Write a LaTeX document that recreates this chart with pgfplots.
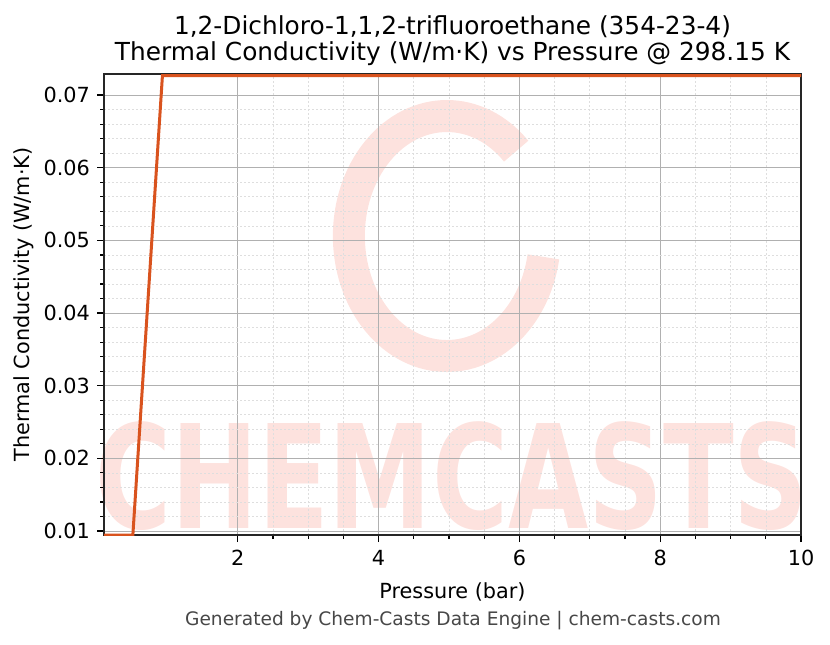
\documentclass[border=0pt]{standalone}
\usepackage{pgfplots}
\pgfplotsset{compat=1.18}
\usetikzlibrary{calc}
\usepackage{fontspec}
\setmainfont{DejaVu Sans}
\definecolor{lineorange}{RGB}{217,83,30}
\definecolor{wmark}{RGB}{253,226,222}
\definecolor{gridmajor}{RGB}{176,176,176}
\definecolor{gridminor}{RGB}{222,222,222}

\begin{document}
\begin{tikzpicture}
\begin{axis}[
    set layers,
    scale only axis,
    width=348.5pt, height=230.5pt,
    xmin=0.1, xmax=10,
    ymin=0.00945, ymax=0.0729,
    xtick={2,4,6,8,10},
    ytick={0.01,0.02,0.03,0.04,0.05,0.06,0.07},
    minor x tick num=3,
    minor y tick num=4,
    scaled y ticks=false,
    yticklabel style={/pgf/number format/fixed, /pgf/number format/fixed zerofill, /pgf/number format/precision=2},
    /pgf/number format/assume math mode=true,
    tick label style={font=\fontsize{10.4}{12}\selectfont},
    label style={font=\fontsize{10.4}{12}\selectfont},
    xticklabel style={yshift=-0.5pt},
    xlabel style={yshift=-1.5pt},
    ylabel style={yshift=-2pt},
    tick align=outside,
    xtick pos=bottom, ytick pos=left,
    major tick length=3.5pt, minor tick length=2pt,
    every tick/.style={black, line width=0.6pt},
    axis line style={line width=0.9pt, black!85},
    grid=both,
    major grid style={gridmajor, line width=0.4pt},
    minor grid style={gridminor, line width=0.3pt, dash pattern=on 1pt off 1pt},
    xlabel={Pressure (bar)},
    ylabel={Thermal Conductivity (W/m·K)},
    title={1,2-Dichloro-1,1,2-trifluoroethane (354-23-4)\\Thermal Conductivity (W/m·K) vs Pressure @ 298.15 K},
    title style={font=\fontsize{12.4}{13.2}\selectfont, align=center, yshift=-5.5pt},
    clip=true,
]
\begin{pgfonlayer}{axis background}
  \draw[wmark, line width=16pt] (axis cs:4.97,0.0506) ++(45:49pt and 60pt)
      arc[start angle=45, end angle=350, x radius=49pt, y radius=60pt];
  \node[wmark, font=\bfseries\fontsize{72}{72}\selectfont, xscale=0.72, inner sep=0pt]
      at (axis cs:5.04,0.0176) {CHEMCASTS};
\end{pgfonlayer}
\addplot[lineorange, line width=1.5pt] coordinates {
  (0.1,0.00945) (0.51,0.00945) (0.93,0.07268) (10,0.07268)
};
\end{axis}
\path[use as bounding box] (current axis.south west) ++(-52pt,-54.5pt) rectangle ++(415pt,322pt);
\node[black!72, font=\fontsize{9.3}{10}\selectfont] at ($(current axis.south west)+(174.5pt,-43pt)$) {Generated by Chem-Casts Data Engine | chem-casts.com};
\end{tikzpicture}
\end{document}
